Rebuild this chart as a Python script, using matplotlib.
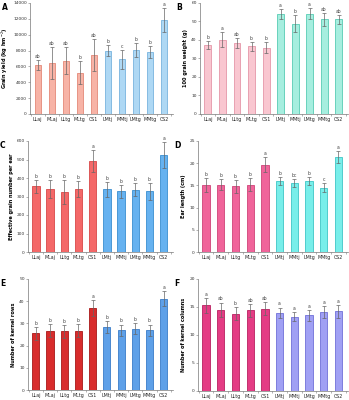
import matplotlib
matplotlib.use("Agg")
import matplotlib.pyplot as plt
import numpy as np

categories = ["LLaj", "MLaj", "LLtg", "MLtg", "CS1", "LMtj", "MMtj", "LMtg", "MMtg", "CS2"]

yield_vals = [6150, 6400, 6700, 5230, 7470, 8000, 6900, 8100, 7800, 11900]
yield_err = [600, 2000, 1700, 1500, 2000, 700, 1200, 900, 800, 1500]
yield_lab = ["ab", "ab", "ab", "b", "ab", "b", "c", "b", "b", "a"]

gw_vals = [37.2, 40.2, 38.4, 36.6, 35.9, 54.2, 48.8, 54.2, 51.2, 51.2]
gw_err = [2.3, 4.0, 2.5, 2.5, 3.0, 2.7, 4.5, 3.0, 3.5, 2.5]
gw_lab = ["b", "a", "ab", "b", "b", "a", "b", "a", "ab", "ab"]

egn_vals = [355, 340, 322, 340, 490, 340, 328, 337, 328, 524]
egn_err = [35, 50, 65, 45, 60, 40, 35, 35, 45, 70]
egn_lab = ["b", "b", "b", "b", "a", "b", "b", "b", "b", "a"]

el_vals = [15.1, 15.2, 14.8, 15.2, 19.7, 16.0, 15.5, 15.9, 14.5, 21.4]
el_err = [1.5, 1.3, 1.5, 1.5, 1.7, 0.8, 0.9, 0.9, 1.0, 1.3]
el_lab = ["b", "b", "b", "b", "a", "b", "bc", "b", "c", "a"]

kr_vals = [25.5, 26.7, 26.4, 26.7, 36.9, 28.4, 27.0, 27.6, 27.0, 41.2]
kr_err = [3.0, 3.0, 3.0, 3.0, 3.5, 2.5, 2.5, 2.5, 2.5, 3.5]
kr_lab = ["b", "b", "b", "b", "a", "b", "b", "b", "b", "a"]

kc_vals = [15.3, 14.5, 13.8, 14.4, 14.7, 14.0, 13.3, 13.5, 14.1, 14.2]
kc_err = [1.3, 1.3, 1.2, 1.2, 1.2, 0.9, 0.8, 1.0, 1.1, 1.1]
kc_lab = ["a", "ab", "b", "ab", "ab", "a", "a", "a", "a", "a"]

panels = [
    dict(letter="A", vals=yield_vals, err=yield_err, lab=yield_lab,
         ylabel="Grain yield (kg hm$^{-2}$)", ymax=14000, step=2000,
         c1=("#F7B3A6", "#E48878"), c2=("#AED8F4", "#78B4DE"),
         pos=[30, 3, 173, 114], width=0.45),
    dict(letter="B", vals=gw_vals, err=gw_err, lab=gw_lab,
         ylabel="100 grain weight (g)", ymax=60, step=10,
         c1=("#F9C6D0", "#E596A8"), c2=("#A6EEDF", "#58CCB4"),
         pos=[200, 3, 348, 114], width=0.48),
    dict(letter="C", vals=egn_vals, err=egn_err, lab=egn_lab,
         ylabel="Effective grain number per ear", ymax=600, step=100,
         c1=("#F46868", "#D84848"), c2=("#66B2F0", "#3A8ED0"),
         pos=[28, 141, 173, 252], width=0.52),
    dict(letter="D", vals=el_vals, err=el_err, lab=el_lab,
         ylabel="Ear length (cm)", ymax=25, step=5,
         c1=("#F0649A", "#CF4478"), c2=("#78EEEA", "#3EC6C6"),
         pos=[198, 141, 348, 252], width=0.5),
    dict(letter="E", vals=kr_vals, err=kr_err, lab=kr_lab,
         ylabel="Number of kernel rows", ymax=50, step=10,
         c1=("#D82C2C", "#A81818"), c2=("#5EA0E8", "#3A7CC8"),
         pos=[28, 279, 173, 390], width=0.5),
    dict(letter="F", vals=kc_vals, err=kc_err, lab=kc_lab,
         ylabel="Number of kernel columns", ymax=20, step=5,
         c1=("#E43C84", "#B82060"), c2=("#A0A0F4", "#7070D8"),
         pos=[198, 279, 348, 391], width=0.5),
]

W, H = 349, 400
fig = plt.figure(figsize=(W / 100, H / 100), dpi=100)

x = np.arange(len(categories))
for p in panels:
    l, t, r, b = p["pos"]
    ax = fig.add_axes([l / W, 1 - b / H, (r - l) / W, (b - t) / H])
    faces = [p["c1"][0]] * 5 + [p["c2"][0]] * 5
    edges = [p["c1"][1]] * 5 + [p["c2"][1]] * 5
    ax.bar(x, p["vals"], width=p["width"], color=faces, edgecolor=edges, linewidth=0.6, zorder=2)
    ax.errorbar(x, p["vals"], yerr=p["err"], fmt="none", ecolor="#666666",
                elinewidth=0.5, capsize=1.1, capthick=0.5, zorder=3)
    off = p["ymax"] * 0.01
    for xi, v, e, s in zip(x, p["vals"], p["err"], p["lab"]):
        ax.text(xi, v + e + off, s, ha="center", va="bottom", fontsize=3.3, color="#444444")
    ax.set_xlim(-0.55, 9.65)
    ax.set_ylim(0, p["ymax"])
    ax.set_yticks(np.arange(0, p["ymax"] + 1e-9, p["step"]))
    ax.set_xticks(x)
    ax.set_xticklabels(categories, fontsize=3.4, color="#222222")
    ax.set_xticks(np.arange(-0.5, 10, 1), minor=True)
    ax.tick_params(axis="x", which="major", length=0, pad=2)
    ax.tick_params(axis="x", which="minor", length=1.3, width=0.4, color="#777777")
    ax.tick_params(axis="y", labelsize=3.2, length=1.3, width=0.4, pad=1, color="#777777", labelcolor="#333333")
    for s in ["top", "right"]:
        ax.spines[s].set_visible(False)
    for s in ["left", "bottom"]:
        ax.spines[s].set_linewidth(0.5)
        ax.spines[s].set_color("#777777")
    ax.set_ylabel(p["ylabel"], fontsize=3.6, fontweight="bold", labelpad=2)
    fig.text((l - 28) / W if p["letter"] in "ACE" else (l - 24) / W, 1 - (t + 5) / H,
             p["letter"], fontsize=5.5, fontweight="bold", ha="left", va="center")

fig.savefig("out.png", dpi=100)
